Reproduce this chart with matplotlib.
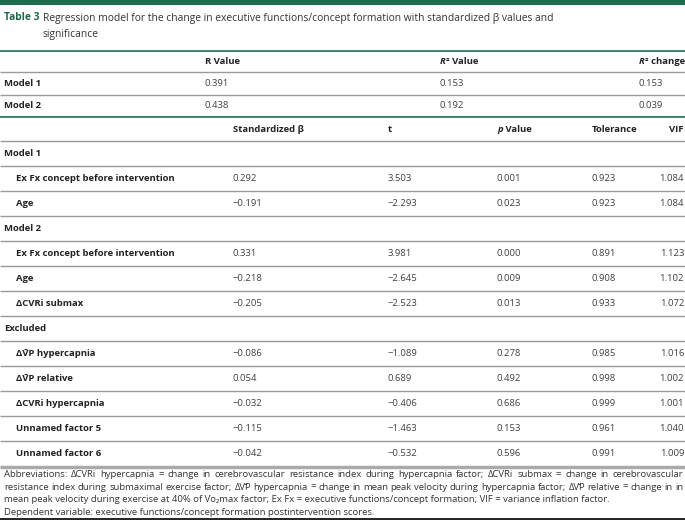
import matplotlib
matplotlib.use("Agg")
import matplotlib.pyplot as plt

# ---------------- data ----------------
title_label = "Table 3"
title_lines = ["Regression model for the change in executive functions/concept formation with standardized \u03b2 values and",
               "significance"]

summary_models = ["Model 1", "Model 2"]
r_values = ["0.391", "0.438"]
r2_values = ["0.153", "0.192"]
r2_change = ["0.153", "0.039"]

coef_headers = ["Standardized \u03b2", "t", "p Value", "Tolerance", "VIF"]
groups = ["Model 1", "Model 2", "Excluded"]
group_rows = [
    ["Ex Fx concept before intervention", "Age"],
    ["Ex Fx concept before intervention", "Age", "\u0394CVRi submax"],
    ["\u0394V\u0304P hypercapnia", "\u0394V\u0304P relative", "\u0394CVRi hypercapnia",
     "Unnamed factor 5", "Unnamed factor 6"],
]
std_beta = [["0.292", "\u22120.191"],
            ["0.331", "\u22120.218", "\u22120.205"],
            ["\u22120.086", "0.054", "\u22120.032", "\u22120.115", "\u22120.042"]]
t_values = [["3.503", "\u22122.293"],
            ["3.981", "\u22122.645", "\u22122.523"],
            ["\u22121.089", "0.689", "\u22120.406", "\u22121.463", "\u22120.532"]]
p_values = [["0.001", "0.023"],
            ["0.000", "0.009", "0.013"],
            ["0.278", "0.492", "0.686", "0.153", "0.596"]]
tolerance = [["0.923", "0.923"],
             ["0.891", "0.908", "0.933"],
             ["0.985", "0.998", "0.999", "0.961", "0.991"]]
vif = [["1.084", "1.084"],
       ["1.123", "1.102", "1.072"],
       ["1.016", "1.002", "1.001", "1.040", "1.009"]]

footnote = [
    "Abbreviations: \u0394CVRi hypercapnia = change in cerebrovascular resistance index during hypercapnia factor; \u0394CVRi submax = change in cerebrovascular",
    "resistance index during submaximal exercise factor; \u0394V\u0304P hypercapnia = change in mean peak velocity during hypercapnia factor; \u0394V\u0304P relative = change in in",
    "mean peak velocity during exercise at 40% of V\u0307o\u2082max factor; Ex Fx = executive functions/concept formation; VIF = variance inflation factor.",
    "Dependent variable: executive functions/concept formation postintervention scores.",
]
footnote_justified = [True, True, False, False]

# ---------------- style ----------------
GREEN = "#1d6b4b"
LINE = "#9a9a9a"
TXT = "#222222"
NUM = "#404040"
FONT = ["Open Sans", "DejaVu Sans"]
BODY = 6.8
plt.rcParams["font.family"] = FONT

fig = plt.figure(figsize=(6.85, 5.2), dpi=100)
ax = fig.add_axes([0, 0, 1, 1])
ax.set_xlim(0, 685)
ax.set_ylim(520, 0)
ax.axis("off")
renderer = fig.canvas.get_renderer()

def hline(y, color=LINE, lw=1.0):
    ax.plot([0, 685], [y, y], color=color, lw=lw, solid_capstyle="butt")

def txt(x, y, s, bold=False, color=TXT, size=BODY, ha="left", style="normal"):
    return ax.text(x, y, s, ha=ha, va="center", fontsize=size,
                   fontweight="bold" if bold else "normal", color=color,
                   fontstyle=style, family=FONT)

def italic_prefix(x, y, first, rest):
    t1 = ax.text(x, y, first, ha="left", va="baseline", fontsize=BODY, fontweight="bold",
                 fontstyle="italic", color=TXT, family=FONT)
    ax.annotate(rest, xy=(1, 0), xycoords=t1, ha="left", va="bottom", fontsize=BODY,
                fontweight="bold", color=TXT, family=FONT)

def justified(x0, x1, y, line, size, color):
    words = line.split(" ")
    arts = [txt(0, y, w, color=color, size=size) for w in words]
    widths = [a.get_window_extent(renderer).width for a in arts]
    gap = (x1 - x0 - sum(widths)) / (len(words) - 1)
    x = x0
    for a, w in zip(arts, widths):
        a.set_x(x)
        x += w + gap

# top bar
ax.add_patch(plt.Rectangle((0, 0), 685, 4.5, color=GREEN, lw=0))

# title
TS = 7.35
txt(4, 18, title_label, bold=True, color=GREEN, size=TS)
txt(43, 18, title_lines[0], color="#333333", size=TS)
txt(43, 35, title_lines[1], color="#333333", size=TS)
hline(51, color=GREEN, lw=1.2)

# summary section
col1 = [205, 440, 639]
txt(col1[0], 61, "R Value", bold=True)
italic_prefix(col1[1], 64, "R", "\u00b2 Value")
italic_prefix(col1[2], 64, "R", "\u00b2 change")
hline(72)
y = 83
for i, m in enumerate(summary_models):
    txt(4, y, m, bold=True)
    txt(col1[0], y, r_values[i], color=NUM)
    txt(col1[1], y, r2_values[i], color=NUM)
    txt(col1[2], y, r2_change[i], color=NUM)
    if i == 0:
        hline(y + 11.5)
    y += 22
hline(117, color=GREEN, lw=1.2)

# coefficients section
col2 = [233, 388, 497, 592, 684]
yh = 129
txt(col2[0], yh, coef_headers[0], bold=True)
txt(col2[1], yh, coef_headers[1], bold=True)
italic_prefix(col2[2], yh + 3, "p", " Value")
txt(col2[3], yh, coef_headers[3], bold=True)
txt(col2[4], yh, coef_headers[4], bold=True, ha="right")

pitch = 25
y = 141
hline(y)
for g, gname in enumerate(groups):
    yc = y + pitch / 2
    txt(4, yc, gname, bold=True)
    y += pitch
    hline(y)
    for r, rname in enumerate(group_rows[g]):
        yc = y + pitch / 2
        txt(16, yc, rname, bold=True)
        txt(col2[0], yc, std_beta[g][r], color=NUM)
        txt(col2[1], yc, t_values[g][r], color=NUM)
        txt(col2[2], yc, p_values[g][r], color=NUM)
        txt(col2[3], yc, tolerance[g][r], color=NUM)
        txt(col2[4], yc, vif[g][r], color=NUM, ha="right")
        y += pitch
        if g == len(groups) - 1 and r == len(group_rows[g]) - 1:
            hline(y + 0.5, color="#aaaaaa", lw=2.5)
        else:
            hline(y)

# footnotes
FS = 6.8
fy = 474.5
for line, just in zip(footnote, footnote_justified):
    if just:
        justified(4, 683, fy, line, FS, "#333333")
    else:
        txt(4, fy, line, color="#333333", size=FS)
    fy += 12.6

hline(518.5, color="#111111", lw=1.3)

fig.savefig("out.png", dpi=100)
